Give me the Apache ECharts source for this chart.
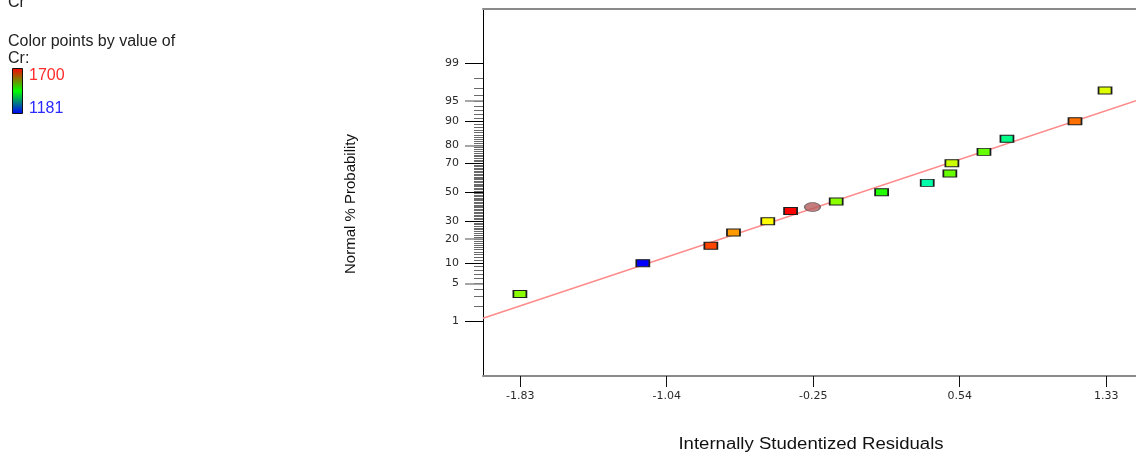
<!DOCTYPE html>
<html>
<head>
<meta charset="utf-8">
<script src="https://cdn.jsdelivr.net/npm/echarts@6/dist/echarts.min.js"></script>
<style>
  html, body { margin: 0; padding: 0; background: #ffffff; }
  #chart { width: 1136px; height: 459px; }
</style>
</head>
<body>
<div id="chart"></div>
<script>
// Internally studentized residuals, their normal plotting probability (%) and the Cr response
const residuals = [-1.832, -1.169, -0.802, -0.680, -0.495, -0.372, -0.126, 0.119, 0.365, 0.487, 0.498, 0.671, 0.795, 1.162, 1.324];
const probabilities = [3.3, 10.0, 16.7, 23.3, 30.0, 36.7, 43.3, 50.0, 56.7, 63.3, 70.0, 76.7, 83.3, 90.0, 96.7];
const crValues = [1510, 1181, 1665, 1622, 1570, 1700, 1510, 1458, 1354, 1492, 1544, 1492, 1371, 1643, 1553];

// Highlighted run drawn as an ellipse
const highlightResidual = [-0.254];
const highlightProbability = [39.4];

// Reference line end points (residual, probability %)
const refLineResidual = [-2.031, 1.491];
const refLineProbability = [1.14, 95.1];

// Axis ticks
const xTicks = [-1.83, -1.04, -0.25, 0.54, 1.33];
const probLabels = [1, 5, 10, 20, 30, 50, 70, 80, 90, 95, 99];
const probMajorDark = [1, 10, 30, 50, 70, 90, 99];
const probMajorGrey = [5, 20, 80, 95];
const crRange = [1181, 1700];

// Inverse of the standard normal CDF (Acklam's rational approximation)
function probit(p) {
  const a = [-3.969683028665376e+01, 2.209460984245205e+02, -2.759285104469687e+02, 1.383577518672690e+02, -3.066479806614716e+01, 2.506628277459239e+00];
  const b = [-5.447609879822406e+01, 1.615858368580409e+02, -1.556989798598866e+02, 6.680131188771972e+01, -1.328068155288572e+01];
  const c = [-7.784894002430293e-03, -3.223964580411365e-01, -2.400758277161838e+00, -2.549732539343734e+00, 4.374664141464968e+00, 2.938163982698783e+00];
  const d = [7.784695709041462e-03, 3.224671290700398e-01, 2.445134137142996e+00, 3.754408661907416e+00];
  const pl = 0.02425, ph = 1 - pl;
  let q, r;
  if (p < pl) {
    q = Math.sqrt(-2 * Math.log(p));
    return (((((c[0]*q+c[1])*q+c[2])*q+c[3])*q+c[4])*q+c[5]) / ((((d[0]*q+d[1])*q+d[2])*q+d[3])*q+1);
  }
  if (p <= ph) {
    q = p - 0.5; r = q * q;
    return (((((a[0]*r+a[1])*r+a[2])*r+a[3])*r+a[4])*r+a[5])*q / (((((b[0]*r+b[1])*r+b[2])*r+b[3])*r+b[4])*r+1);
  }
  q = Math.sqrt(-2 * Math.log(1 - p));
  return -(((((c[0]*q+c[1])*q+c[2])*q+c[3])*q+c[4])*q+c[5]) / ((((d[0]*q+d[1])*q+d[2])*q+d[3])*q+1);
}
const z = pct => probit(pct / 100);

// Minor ticks at every whole percent
const probMinor = [];
for (let i = 1; i <= 99; i++) probMinor.push(i);

const labelZ = probLabels.map(z);
function probLabel(v) {
  let best = 0;
  labelZ.forEach((lz, i) => { if (Math.abs(lz - v) < Math.abs(labelZ[best] - v)) best = i; });
  return String(probLabels[best]);
}

const pointData = residuals.map((r, i) => [r, z(probabilities[i]), crValues[i]]);
const highlightData = highlightResidual.map((r, i) => [r, z(highlightProbability[i])]);
const lineData = refLineResidual.map((r, i) => [r, z(refLineProbability[i])]);

const FONT = '"Liberation Sans", Arial, sans-serif';
const TICK_FONT = '"DejaVu Sans", sans-serif';
const yMin = -3.32, yMax = 3.31;

const chart = echarts.init(document.getElementById('chart'), null, { renderer: 'canvas' });

const yBase = {
  type: 'value', min: yMin, max: yMax, position: 'left',
  splitLine: { show: false },
  axisLine: { show: false, onZero: false },
  axisLabel: { show: false }, axisTick: { show: false }
};

chart.setOption({
  animation: false,
  backgroundColor: '#ffffff',
  grid: { left: 483, right: 0, top: 9, bottom: 83, show: false },
  xAxis: [
    {
      type: 'value', min: -2.031, max: 1.491, position: 'bottom',
      splitLine: { show: false },
      axisLine: { show: true, onZero: false, lineStyle: { color: '#8a8a8a', width: 2 } },
      axisTick: { show: true, customValues: xTicks, length: 11, lineStyle: { color: '#111', width: 1 } },
      axisLabel: { show: true, customValues: xTicks, margin: 15, fontSize: 11, fontFamily: TICK_FONT, color: '#2a2a2a',
                   formatter: v => v.toFixed(2) }
    },
    {
      type: 'value', min: -2.031, max: 1.491, position: 'top',
      splitLine: { show: false },
      axisLine: { show: true, onZero: false, lineStyle: { color: '#8a8a8a', width: 2 } },
      axisTick: { show: false }, axisLabel: { show: false }
    }
  ],
  yAxis: [
    Object.assign({}, yBase, {
      axisTick: { show: true, customValues: probMinor.map(z), length: 9, lineStyle: { color: '#6a6a6a', width: 1 } }
    }),
    Object.assign({}, yBase, {
      axisTick: { show: true, customValues: probMajorGrey.map(z), length: 18, lineStyle: { color: '#8a8a8a', width: 1.5 } }
    }),
    Object.assign({}, yBase, {
      axisLine: { show: true, onZero: false, lineStyle: { color: '#000', width: 1 } },
      axisTick: { show: true, customValues: probMajorDark.map(z), length: 18, lineStyle: { color: '#000', width: 1 } },
      axisLabel: { show: true, customValues: labelZ, margin: 24, fontSize: 11, fontFamily: TICK_FONT, color: '#2a2a2a',
                   formatter: probLabel }
    })
  ],
  visualMap: {
    type: 'continuous', show: false, seriesIndex: 1, dimension: 2,
    min: crRange[0], max: crRange[1],
    inRange: { color: ['#0000ff', '#00ffff', '#00ff00', '#ffff00', '#ff0000'] }
  },
  series: [
    {
      type: 'line', xAxisIndex: 0, yAxisIndex: 2, data: lineData,
      symbol: 'none', silent: true, z: 1,
      lineStyle: { color: '#ff8a8a', width: 1.5 }
    },
    {
      type: 'scatter', xAxisIndex: 0, yAxisIndex: 2, data: pointData,
      symbol: 'rect', symbolSize: [13, 7], z: 3,
      itemStyle: { borderColor: '#1e1e1e', borderWidth: 1.3, opacity: 1 }
    },
    {
      type: 'scatter', xAxisIndex: 0, yAxisIndex: 2, data: highlightData,
      symbol: 'circle', symbolSize: [16, 9], z: 3,
      itemStyle: { color: '#b55c5c', borderColor: '#555', borderWidth: 1 }
    }
  ],
  graphic: [
    { type: 'text', left: 8, top: -5, style: { text: 'Cr', font: '16px ' + FONT, fill: '#222' } },
    { type: 'text', left: 8, top: 34, style: { text: 'Color points by value of', font: '16px ' + FONT, fill: '#222' } },
    { type: 'text', left: 8, top: 51, style: { text: 'Cr:', font: '16px ' + FONT, fill: '#222' } },
    {
      type: 'rect', shape: { x: 12.5, y: 68.5, width: 10, height: 45 },
      style: {
        fill: new echarts.graphic.LinearGradient(0, 0, 0, 1, [
          { offset: 0, color: '#ff0000' },
          { offset: 0.5, color: '#00ff00' },
          { offset: 1, color: '#0000ff' }
        ]),
        stroke: '#111', lineWidth: 1
      }
    },
    { type: 'text', left: 29, top: 68, style: { text: String(crRange[1]), font: '16px ' + FONT, fill: '#ff2b2b' } },
    { type: 'text', left: 29, top: 101, style: { text: String(crRange[0]), font: '16px ' + FONT, fill: '#2b2bff' } },
    {
      type: 'text', x: 351, y: 204, rotation: Math.PI / 2,
      style: { text: 'Normal % Probability', font: '15px ' + FONT, fill: '#111', align: 'center', verticalAlign: 'middle' }
    },
    {
      type: 'text', x: 811, y: 445, scaleX: 1.16,
      style: { text: 'Internally Studentized Residuals', font: '16px ' + FONT, fill: '#111', align: 'center', verticalAlign: 'middle' }
    }
  ]
});
</script>
</body>
</html>
